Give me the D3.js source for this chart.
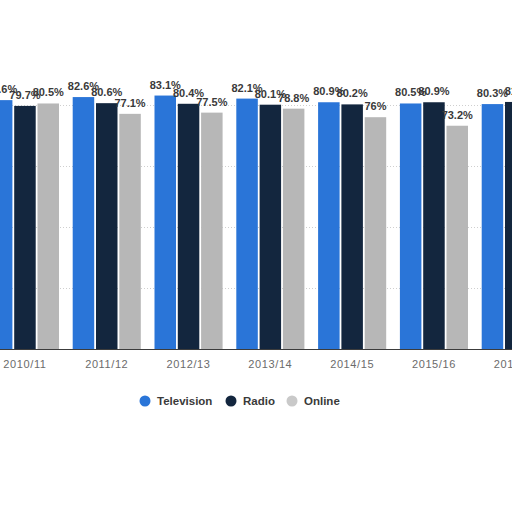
<!DOCTYPE html>
<html>
<head>
<meta charset="utf-8">
<script src="https://cdn.jsdelivr.net/npm/d3@7"></script>
<style>
  html,body{margin:0;padding:0;background:#fff;overflow:hidden;}
</style>
</head>
<body>
<div id="chartdiv"></div>
<script>
var svgW=512,svgH=512;

// data (first and last seasons are cut by the frame)
var seasons=["2010/11","2011/12","2012/13","2013/14","2014/15","2015/16","2016/17"];
var seriesNames=["Television","Radio","Online"];
var tvValues=[81.6,82.6,83.1,82.1,80.9,80.5,80.3];
var radioValues=[79.7,80.6,80.4,80.1,80.2,80.9,81.0];
var onlineValues=[80.5,77.1,77.5,78.8,76,73.2,null];
var gridTicks=[20,40,60,80];

var seriescolor=["#2a75d8","#13263e","#b7b7b7"];
var legendcolor=["#2a75d8","#13263e","#c9c9c9"];

var rows=seasons.map(function(s,i){
    return {season:s,values:[tvValues[i],radioValues[i],onlineValues[i]]};
});

var svg=d3.select("#chartdiv")
    .append("svg")
    .attr("width",svgW)
    .attr("height",svgH);

var x0=d3.scaleBand()
    .domain(seasons)
    .range([-15.95,-15.95+81.8*seasons.length])
    .paddingInner(0.1675)
    .paddingOuter(0.08375);

var x1=d3.scaleBand()
    .domain(seriesNames)
    .range([0,x0.bandwidth()])
    .paddingInner(0.077);

var y=d3.scaleLinear()
    .domain([0,100])
    .range([349,44]);

// dotted grid
svg.append("g").selectAll("line")
    .data(gridTicks)
    .enter()
    .append("line")
    .attr("x1",0).attr("x2",svgW)
    .attr("y1",function(d){return y(d)+0.5;})
    .attr("y2",function(d){return y(d)+0.5;})
    .attr("stroke","#cfcfcf")
    .attr("stroke-width",1)
    .attr("stroke-dasharray","1,2");

var groups=svg.append("g").selectAll("g")
    .data(rows)
    .enter()
    .append("g")
    .attr("transform",function(d){return "translate("+x0(d.season)+",0)";});

var cells=function(d){
    return d.values.map(function(v,j){return {name:seriesNames[j],value:v,idx:j};})
        .filter(function(c){return c.value!==null;});
};

groups.selectAll("rect")
    .data(cells)
    .enter()
    .append("rect")
    .attr("x",function(d){return x1(d.name);})
    .attr("y",function(d){return y(d.value);})
    .attr("width",x1.bandwidth())
    .attr("height",function(d){return y(0)-y(d.value);})
    .attr("fill",function(d){return seriescolor[d.idx];});

groups.selectAll("text")
    .data(cells)
    .enter()
    .append("text")
    .attr("x",function(d){return x1(d.name)+x1.bandwidth()/2;})
    .attr("y",function(d){return y(d.value)-7;})
    .attr("text-anchor","middle")
    .style("font-family","'Liberation Sans',Arial,sans-serif")
    .style("font-size","11px")
    .style("font-weight","bold")
    .attr("fill","#3a3a3a")
    .text(function(d){return d.value+"%";});

// x axis
var xAxis=d3.axisBottom(x0).tickSize(0).tickPadding(11);
var axisg=svg.append("g")
    .attr("transform","translate(0,"+y(0)+")")
    .call(xAxis);
axisg.select(".domain").remove();
axisg.append("line")
    .attr("x1",0).attr("x2",svgW)
    .attr("y1",0.5).attr("y2",0.5)
    .attr("stroke","#3c3c3c")
    .attr("stroke-width",1);
axisg.selectAll("text")
    .style("font-family","'Liberation Sans',Arial,sans-serif")
    .style("font-size","11px")
    .style("letter-spacing","0.6px")
    .attr("fill","#6b6b6b");

// legend
var legendX=[145,231,292];
var legend=svg.append("g").selectAll("g")
    .data(seriesNames)
    .enter()
    .append("g")
    .attr("transform",function(d,i){return "translate("+legendX[i]+",401)";});
legend.append("circle")
    .attr("r",5.5)
    .attr("fill",function(d,i){return legendcolor[i];});
legend.append("text")
    .attr("x",12)
    .attr("y",4)
    .style("font-family","'Liberation Sans',Arial,sans-serif")
    .style("font-size","11.5px")
    .style("font-weight","bold")
    .attr("fill","#3a3a3a")
    .text(function(d){return d;});
</script>
</body>
</html>
